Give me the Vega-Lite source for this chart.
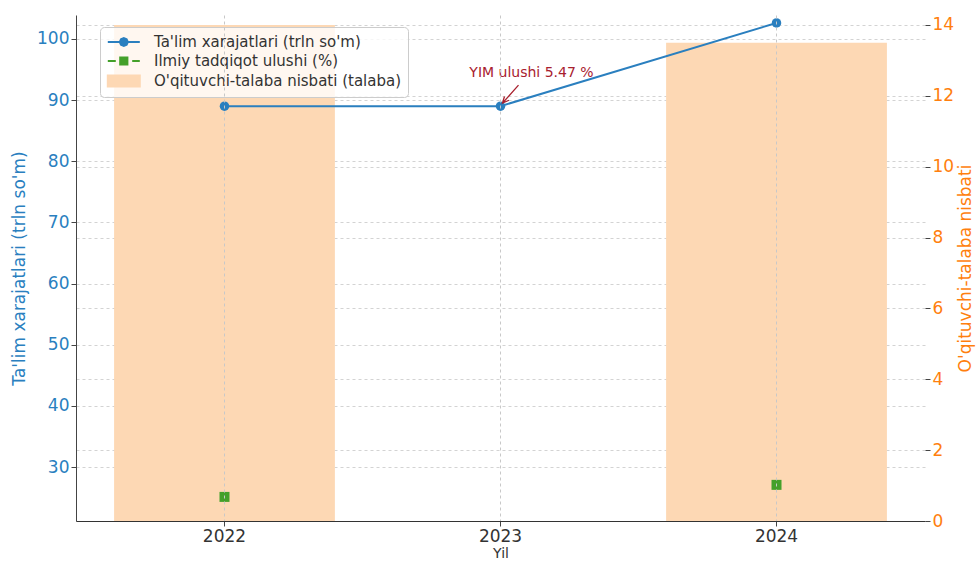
{
  "$schema": "https://vega.github.io/schema/vega-lite/v6.json",
  "width": 849,
  "height": 506,
  "autosize": {"type": "none"},
  "padding": {"left": 76, "top": 15, "right": 51, "bottom": 40},
  "background": "white",
  "config": {
    "font": "DejaVu Sans",
    "view": {"stroke": null},
    "axis": {
      "gridDash": [3, 3],
      "gridColor": "#d3d3d3",
      "domainColor": "#444444",
      "tickColor": "#444444",
      "labelFontSize": 17,
      "titleFontSize": 17,
      "titleFontWeight": "normal",
      "labelFont": "DejaVu Sans",
      "titleFont": "DejaVu Sans",
      "tickSize": 5
    }
  },
  "data": {
    "values": [
      {"year": "2022", "spend": 89.0, "ratio": 14.0, "research": 0.68},
      {"year": "2023", "spend": 89.0, "ratio": null, "research": null, "note": "YIM ulushi 5.47 %"},
      {"year": "2024", "spend": 102.6, "ratio": 13.5, "research": 1.02}
    ]
  },
  "encoding": {
    "x": {
      "field": "year",
      "type": "ordinal",
      "scale": {"paddingInner": 0.2, "paddingOuter": 0.138},
      "axis": {
        "title": "Yil",
        "labelAngle": 0,
        "labelColor": "#333333",
        "titleColor": "#333333",
        "titleFontSize": 14,
        "grid": true,
        "bandPosition": 0.5,
        "zindex": 1,
        "labelPadding": 2,
        "titlePadding": 2,
        "domainColor": "#333333",
        "gridColor": "#c8c8c8"
      }
    }
  },
  "layer": [
    {
      "layer": [
        {
          "mark": {"type": "bar"},
          "encoding": {
            "y": {
              "field": "ratio",
              "type": "quantitative",
              "scale": {"domain": [0, 14.28], "nice": false},
              "axis": {
                "orient": "right",
                "title": "O'qituvchi-talaba nisbati",
                "values": [0, 2, 4, 6, 8, 10, 12, 14],
                "labelColor": "#ff7f0e",
                "titleColor": "#ff7f0e",
                "titleAngle": 270,
                "domain": false,
                "grid": true,
                "titlePadding": 21
              }
            },
            "color": {"datum": "O'qituvchi-talaba nisbati (talaba)", "type": "nominal"}
          }
        },
        {
          "mark": {"type": "point", "shape": "square", "filled": true, "size": 100, "opacity": 1},
          "encoding": {
            "y": {
              "field": "research",
              "type": "quantitative",
              "scale": {"domain": [0, 14.28], "nice": false},
              "axis": {
                "orient": "right",
                "title": "O'qituvchi-talaba nisbati",
                "values": [0, 2, 4, 6, 8, 10, 12, 14],
                "labelColor": "#ff7f0e",
                "titleColor": "#ff7f0e",
                "titleAngle": 270,
                "domain": false,
                "grid": true,
                "titlePadding": 21
              }
            },
            "color": {"datum": "Ilmiy tadqiqot ulushi (%)", "type": "nominal"}
          }
        }
      ]
    },
    {
      "encoding": {
        "y": {
          "field": "spend",
          "type": "quantitative",
          "scale": {"domain": [21.2, 103.9], "nice": false, "zero": false},
          "axis": {
            "orient": "left",
            "title": "Ta'lim xarajatlari (trln so'm)",
            "values": [30, 40, 50, 60, 70, 80, 90, 100],
            "labelColor": "#2a7fbf",
            "titleColor": "#2a7fbf",
            "grid": true,
            "titlePadding": 8
          }
        }
      },
      "layer": [
        {
          "mark": {"type": "line", "strokeWidth": 2, "point": {"filled": true, "size": 90, "opacity": 1}},
          "encoding": {
            "color": {
              "datum": "Ta'lim xarajatlari (trln so'm)",
              "type": "nominal",
              "scale": {
                "domain": ["Ta'lim xarajatlari (trln so'm)", "Ilmiy tadqiqot ulushi (%)", "O'qituvchi-talaba nisbati (talaba)"],
                "range": ["#2a7fbf", "#44a02a", "#fdd8b4"]
              },
              "legend": {
                "orient": "none",
                "legendX": 24,
                "legendY": 12,
                "title": null,
                "labelFontSize": 15,
                "labelColor": "#333333",
                "labelFont": "DejaVu Sans",
                "labelLimit": 400,
                "symbolSize": 256,
                "symbolStrokeWidth": 2,
                "labelOffset": 30,
                "rowPadding": 2,
                "padding": 6,
                "strokeColor": "#cccccc",
                "fillColor": "rgba(255,255,255,0.8)",
                "cornerRadius": 4,
                "encode": {
                  "symbols": {
                    "update": {
                      "shape": {"signal": "indexof(datum.value,'Ta')===0 ? 'M-0.9,0L3.1,0M1.6,0L1.454,0.354L1.1,0.5L0.746,0.354L0.6,0L0.746,-0.354L1.1,-0.5L1.454,-0.354Z' : (indexof(datum.value,'Il')===0 ? 'M-0.9,0L0.1,0M2.15,0L3.1,0M0.65,-0.45L1.55,-0.45L1.55,0.45L0.65,0.45Z' : 'M-0.9,-0.7L3.1,-0.7L3.1,0.7L-0.9,0.7Z')"},
                      "fill": {"scale": "color", "field": "value"},
                      "stroke": {"scale": "color", "field": "value"}
                    }
                  }
                }
              }
            }
          }
        },
        {
          "transform": [{"filter": "datum.year == '2023'"}],
          "mark": {"type": "text", "dx": 31, "dy": -33, "fontSize": 14, "color": "#a8202e", "align": "center", "baseline": "middle"},
          "encoding": {"text": {"field": "note"}}
        },
        {
          "transform": [{"filter": "datum.year == '2023'"}],
          "mark": {"type": "point", "shape": "M1,-1.17L0.11,-0.17M0.47,-0.33L0.11,-0.17L0.22,-0.54", "size": 1296, "filled": false, "stroke": "#a8202e", "strokeWidth": 1.3, "opacity": 1}
        }
      ]
    }
  ],
  "resolve": {"scale": {"y": "independent"}}
}
